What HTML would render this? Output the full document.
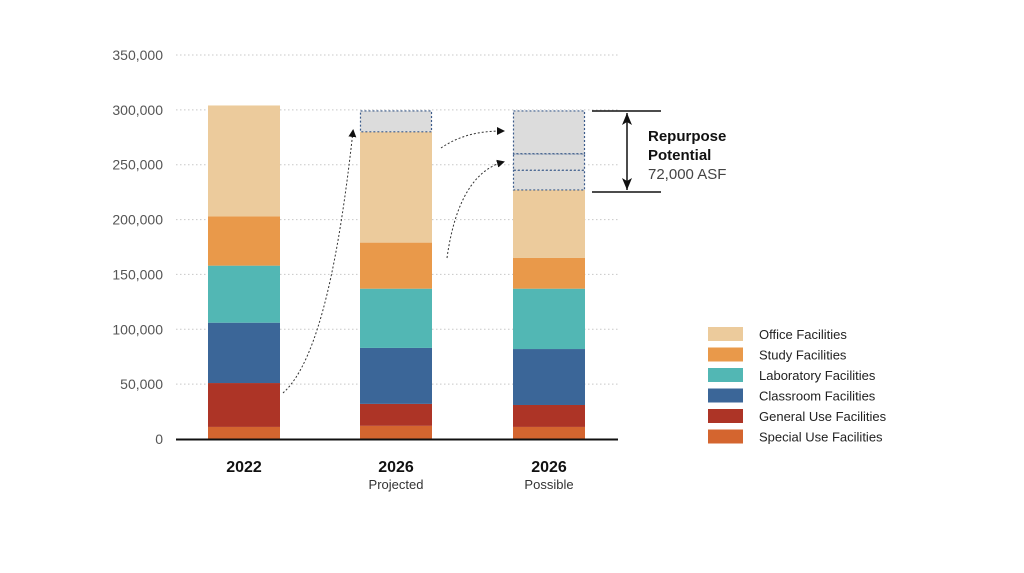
<!DOCTYPE html>
<html><head><meta charset="utf-8"><style>
body{margin:0;background:#fff;font-family:"Liberation Sans",sans-serif}
</style></head><body>
<svg id="c" width="1024" height="568" viewBox="0 0 1024 568">
<defs><marker id="ah" markerWidth="8" markerHeight="8" refX="6" refY="4" orient="auto"><path d="M0,0L8,4L0,8z" fill="#111"/></marker>
<marker id="ae" markerWidth="12" markerHeight="10" refX="12" refY="5" orient="auto-start-reverse" markerUnits="userSpaceOnUse"><path d="M0,0L12,5L0,10L3,5z" fill="#111"/></marker></defs>
<g id="grid"></g><g id="bars"></g><g id="leg"></g>
</svg>
<script>
const categories=["2022","2026","2026"];
const subLabels=["","Projected","Possible"];
const seriesNames=["Special Use Facilities","General Use Facilities","Classroom Facilities","Laboratory Facilities","Study Facilities","Office Facilities"];
const special=[11000,12000,11000];
const general=[40000,20000,20000];
const classroom=[55000,51000,51000];
const lab=[52000,54000,55000];
const study=[45000,42000,28000];
const office=[101000,101000,62000];
const gray2026P=[19000];
const grayPossible=[18000,15000,39000];
const yTicks=[0,50000,100000,150000,200000,250000,300000,350000];
const colors=["#d4652f","#ad3426","#3b6698","#52b7b4","#e9994a","#eccb9c"];
const NS="http://www.w3.org/2000/svg";
const y=v=>439-v*(384/350000);
const bx=[208,360,513],bw=72;
function el(t,a,p){const e=document.createElementNS(NS,t);for(const k in a)e.setAttribute(k,a[k]);p.appendChild(e);return e;}
const g=document.getElementById('grid'),b=document.getElementById('bars'),L=document.getElementById('leg');
yTicks.forEach(v=>{
 if(v>0){const l=el('line',{x1:176,x2:618,y1:y(v),y2:y(v),stroke:'#c8c8c8','stroke-dasharray':'1.5 2.5'},g);
 
 }
 const t=el('text',{x:163,y:y(v)+5,'text-anchor':'end','font-size':14,fill:'#555'},g);t.textContent=v.toLocaleString('en-US');
 
 
});
const series=[special,general,classroom,lab,study,office];
categories.forEach((c,i)=>{
 let acc=0;
 series.forEach((s,k)=>{const r=el('rect',{x:bx[i],y:y(acc+s[i]),width:bw,height:y(acc)-y(acc+s[i]),fill:colors[k]},b);
  
  
  acc+=s[i];});
 let grays=i===1?gray2026P:(i===2?grayPossible:[]);
 grays.forEach(s=>{const r=el('rect',{x:bx[i]+0.5,y:y(acc+s),width:bw-1,height:y(acc)-y(acc+s),fill:'#dcdcdc',stroke:'#3b5b8a','stroke-dasharray':'2 2','stroke-width':1.2},b);
  
  
  acc+=s;});
 const t=el('text',{x:bx[i]+bw/2,y:472,'text-anchor':'middle','font-size':16,'font-weight':'bold',fill:'#111'},b);t.textContent=c;
 
 
 if(subLabels[i]){const s=el('text',{x:bx[i]+bw/2,y:489,'text-anchor':'middle','font-size':13,fill:'#333'},b);s.textContent=subLabels[i];
 
 }
});
const ax=el('line',{x1:176,x2:618,y1:439.5,y2:439.5,stroke:'#111','stroke-width':2},b);


[["M283,393 C320,360 340,250 353,131"],["M441,148 C460,135 480,131 503,131"],["M447,258 C455,200 475,170 503,162"]].forEach(d=>{
 const p=el('path',{d:d[0],fill:'none',stroke:'#333','stroke-dasharray':'2 2',"marker-end":'url(#ah)'},b);
 
 
});
[111,192].forEach(yy=>{const l=el('line',{x1:592,x2:661,y1:yy,y2:yy,stroke:'#111','stroke-width':1.5},b);
 
 });
const dl=el('line',{x1:627,x2:627,y1:113,y2:190,stroke:'#111','stroke-width':1.5,'marker-start':'url(#ae)','marker-end':'url(#ae)'},b);


[["Repurpose",141,'bold','#111'],["Potential",160,'bold','#111'],["72,000 ASF",179,'normal','#444']].forEach(a=>{
 const t=el('text',{x:648,y:a[1],'font-size':15,'font-weight':a[2],fill:a[3]},b);t.textContent=a[0];
 
 
});
const legOrder=[5,4,3,2,1,0];
legOrder.forEach((k,j)=>{
 const yy=327+j*20.5;
 const r=el('rect',{x:708,y:yy,width:35,height:14,fill:colors[k]},L);
 
 
 const t=el('text',{x:759,y:yy+12,'font-size':13,fill:'#222'},L);t.textContent=seriesNames[k];
 
 
});
</script>
</body></html>
